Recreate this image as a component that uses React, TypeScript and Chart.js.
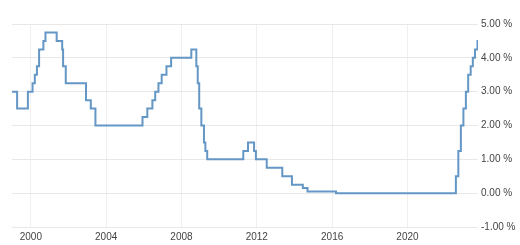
import React, { useEffect, useRef } from "react";
import { Chart, registerables } from "chart.js";

Chart.register(...registerables);

// ECB main refinancing rate: change dates and new rate (%)
const changeDates: string[] = [
  "1999-01-01", "1999-04-09", "1999-11-05", "2000-02-04", "2000-03-17", "2000-04-28",
  "2000-06-09", "2000-09-01", "2000-10-11", "2001-05-15", "2001-08-31", "2001-09-18",
  "2001-11-09", "2002-12-06", "2003-03-07", "2003-06-06", "2005-12-06", "2006-03-08",
  "2006-06-15", "2006-08-09", "2006-10-11", "2006-12-13", "2007-03-14", "2007-06-13",
  "2008-07-09", "2008-10-15", "2008-11-12", "2008-12-10", "2009-01-21", "2009-03-11",
  "2009-04-08", "2009-05-13", "2011-04-13", "2011-07-13", "2011-11-09", "2011-12-14",
  "2012-07-11", "2013-05-08", "2013-11-13", "2014-06-11", "2014-09-10", "2016-03-16",
  "2022-07-27", "2022-09-14", "2022-11-02", "2022-12-21", "2023-02-08", "2023-03-22",
  "2023-05-10", "2023-06-21", "2023-08-02", "2023-09-20", "2023-09-30",
];
const rates: number[] = [
  3.0, 2.5, 3.0, 3.25, 3.5, 3.75,
  4.25, 4.5, 4.75, 4.5, 4.25, 3.75,
  3.25, 2.75, 2.5, 2.0, 2.25, 2.5,
  2.75, 3.0, 3.25, 3.5, 3.75, 4.0,
  4.25, 3.75, 3.25, 2.5, 2.0, 1.5,
  1.25, 1.0, 1.25, 1.5, 1.25, 1.0,
  0.75, 0.5, 0.25, 0.15, 0.05, 0.0,
  0.5, 1.25, 2.0, 2.5, 3.0, 3.5,
  3.75, 4.0, 4.25, 4.5, 4.5,
];
const xTickYears: number[] = [2000, 2004, 2008, 2012, 2016, 2020];
const yTicks: number[] = [-1, 0, 1, 2, 3, 4, 5];

function toYear(d: string): number {
  const [y, m, day] = d.split("-").map(Number);
  return y + (m - 1) / 12 + (day - 1) / 365;
}

export default function App() {
  const ref = useRef<HTMLCanvasElement | null>(null);
  useEffect(() => {
    if (!ref.current) return;
    const pts = changeDates.map((d, i) => ({ x: toYear(d), y: rates[i] }));
    const font = { family: "Arial, 'Liberation Sans', sans-serif", size: 10 };
    const chart = new Chart(ref.current, {
      type: "line",
      data: {
        datasets: [
          {
            data: pts,
            stepped: "before",
            borderColor: "#6497c5",
            borderWidth: 2,
            pointRadius: 0,
            fill: false,
          },
        ],
      },
      options: {
        animation: false,
        responsive: false,
        layout: { padding: { left: 12, top: 24, right: 0, bottom: 0 } },
        plugins: { legend: { display: false }, tooltip: { enabled: false } },
        scales: {
          x: {
            type: "linear",
            min: toYear(changeDates[0]),
            max: toYear(changeDates[changeDates.length - 1]),
            afterBuildTicks: (s: any) => {
              s.ticks = xTickYears.map((v) => ({ value: v }));
            },
            afterFit: (s: any) => {
              s.height = 18;
            },
            grid: { color: "#efefef", drawTicks: false },
            border: { display: false },
            ticks: {
              font,
              color: "#444",
              padding: 4,
              maxRotation: 0,
              autoSkip: false,
              callback: (v: any) => String(v),
            },
          },
          y: {
            position: "right",
            min: -1,
            max: 5,
            afterBuildTicks: (s: any) => {
              s.ticks = yTicks.map((v) => ({ value: v }));
            },
            afterFit: (s: any) => {
              s.width = 42;
            },
            grid: { color: "#e8e8e8", drawTicks: false },
            border: { display: false },
            ticks: {
              font,
              color: "#444",
              padding: 3,
              callback: (v: any) => Number(v).toFixed(2) + " %",
            },
          },
        },
      },
    } as any);
    return () => chart.destroy();
  }, []);
  return (
    <div style={{ position: "fixed", left: 0, top: 0, width: 520, height: 245, background: "#fff" }}>
      <canvas ref={ref} width={520} height={245} />
    </div>
  );
}
